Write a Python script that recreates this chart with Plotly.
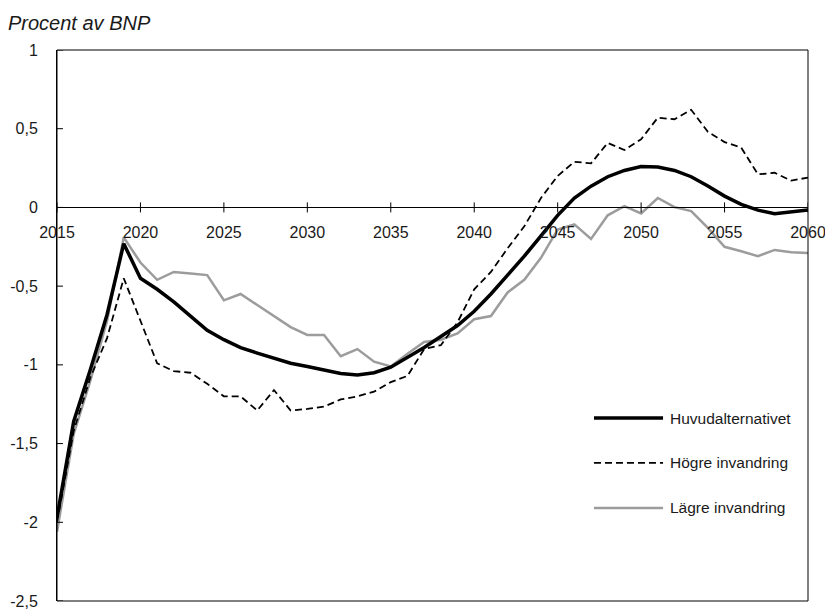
import plotly.graph_objects as go

# Primary balance projections, per cent of GDP
years = list(range(2015, 2061))

huvudalternativet = [
    -1.97, -1.36, -1.03, -0.68, -0.23, -0.45, -0.52, -0.60, -0.69, -0.78,
    -0.84, -0.89, -0.925, -0.96, -0.99, -1.01, -1.035, -1.055, -1.065, -1.05,
    -1.015, -0.955, -0.89, -0.82, -0.75, -0.66, -0.55, -0.43, -0.31, -0.18,
    -0.05, 0.06, 0.135, 0.195, 0.235, 0.26, 0.257, 0.235, 0.195, 0.136,
    0.072, 0.02, -0.017, -0.04, -0.03, -0.017,
]

hogre_invandring = [
    -2.00, -1.42, -1.08, -0.83, -0.45, -0.72, -0.99, -1.04, -1.05, -1.12,
    -1.20, -1.20, -1.29, -1.16, -1.29, -1.28, -1.265, -1.22, -1.20, -1.17,
    -1.11, -1.07, -0.90, -0.875, -0.73, -0.52, -0.41, -0.26, -0.12, 0.06,
    0.20, 0.29, 0.28, 0.41, 0.365, 0.433, 0.57, 0.56, 0.62, 0.48,
    0.415, 0.38, 0.21, 0.22, 0.17, 0.19,
]

lagre_invandring = [
    -2.06, -1.44, -1.10, -0.72, -0.19, -0.35, -0.46, -0.41, -0.42, -0.43,
    -0.59, -0.55, -0.62, -0.69, -0.76, -0.81, -0.81, -0.945, -0.90, -0.98,
    -1.01, -0.93, -0.855, -0.84, -0.80, -0.71, -0.69, -0.54, -0.46, -0.32,
    -0.14, -0.108, -0.20, -0.05, 0.008, -0.038, 0.06, 0.002, -0.023, -0.13,
    -0.25, -0.278, -0.31, -0.27, -0.285, -0.29,
]

x_ticks = [2015, 2020, 2025, 2030, 2035, 2040, 2045, 2050, 2055, 2060]
y_ticks = [1, 0.5, 0, -0.5, -1, -1.5, -2, -2.5]
y_tick_text = ["1", "0,5", "0", "-0,5", "-1", "-1,5", "-2", "-2,5"]

series_names = ["Huvudalternativet", "Högre invandring", "Lägre invandring"]

Y_MIN, Y_MAX = -2.5, 1.0
X_MIN, X_MAX = 2015, 2060

SANS = "Liberation Sans, Arial, sans-serif"
TEXT = "#1a1a1a"
GREY = "#9c9c9c"

styles = {
    "Huvudalternativet": dict(color="black", width=3.5, dash="solid"),
    "Högre invandring": dict(color="black", width=1.8, dash="7px,4px"),
    "Lägre invandring": dict(color=GREY, width=2.5, dash="solid"),
}

fig = go.Figure()

for name, vals in [
    ("Lägre invandring", lagre_invandring),
    ("Högre invandring", hogre_invandring),
    ("Huvudalternativet", huvudalternativet),
]:
    fig.add_trace(go.Scatter(
        x=years, y=vals, mode="lines", name=name,
        line=styles[name], showlegend=False, hoverinfo="x+y+name",
    ))

shapes = []
# plot frame
shapes.append(dict(type="rect", xref="paper", yref="paper", x0=0, x1=1, y0=0, y1=1,
                   line=dict(color="black", width=1), layer="above"))
# x ticks crossing the zero line
for t in x_ticks:
    shapes.append(dict(type="line", xref="x", yref="y", x0=t, x1=t,
                       ysizemode="pixel", yanchor=0, y0=-5, y1=5,
                       line=dict(color="black", width=1)))
# y ticks pointing inwards
for v in y_ticks:
    shapes.append(dict(type="line", xref="x", yref="y", y0=v, y1=v,
                       xsizemode="pixel", xanchor=X_MIN, x0=0, x1=6,
                       line=dict(color="black", width=1)))

# hand-built legend inside the plot area
annotations = []
legend_x0, legend_x1, legend_text_x = 0.715, 0.807, 0.8136
legend_ys = [0.332, 0.2505, 0.1688]
for name, ly in zip(series_names, legend_ys):
    st = styles[name]
    shapes.append(dict(type="line", xref="paper", yref="paper",
                       x0=legend_x0, x1=legend_x1, y0=ly, y1=ly,
                       line=dict(color=st["color"], width=st["width"], dash=st["dash"])))
    annotations.append(dict(xref="paper", yref="paper", x=legend_text_x, y=ly,
                            xanchor="left", yanchor="middle", showarrow=False,
                            text=name, font=dict(family=SANS, size=15.5, color=TEXT)))

fig.update_layout(
    width=825, height=610,
    margin=dict(l=57, r=17, t=50, b=9, autoexpand=False),
    paper_bgcolor="white", plot_bgcolor="white",
    showlegend=False,
    title=dict(text="<i>Procent av BNP</i>", x=0.0097, xref="container", xanchor="left",
               y=0.963, yref="container", yanchor="middle", automargin=False,
               font=dict(family=SANS, size=20, color=TEXT)),
    xaxis=dict(
        range=[X_MIN, X_MAX], tickvals=x_ticks, ticktext=[str(t) for t in x_ticks],
        anchor="free", position=(0 - Y_MIN) / (Y_MAX - Y_MIN),
        showline=True, linecolor="black", linewidth=1,
        showgrid=False, zeroline=False, ticks="", ticklabelstandoff=10,
        ticklabeloverflow="allow", automargin=False,
        tickfont=dict(family=SANS, size=16, color=TEXT),
    ),
    yaxis=dict(
        range=[Y_MIN, Y_MAX], tickvals=y_ticks, ticktext=y_tick_text,
        showline=True, linecolor="black", linewidth=1,
        showgrid=False, zeroline=False, ticks="", ticklabelstandoff=15,
        ticklabeloverflow="allow", automargin=False,
        tickfont=dict(family=SANS, size=16, color=TEXT),
    ),
    shapes=shapes,
    annotations=annotations,
)

fig.write_html("out.html")
